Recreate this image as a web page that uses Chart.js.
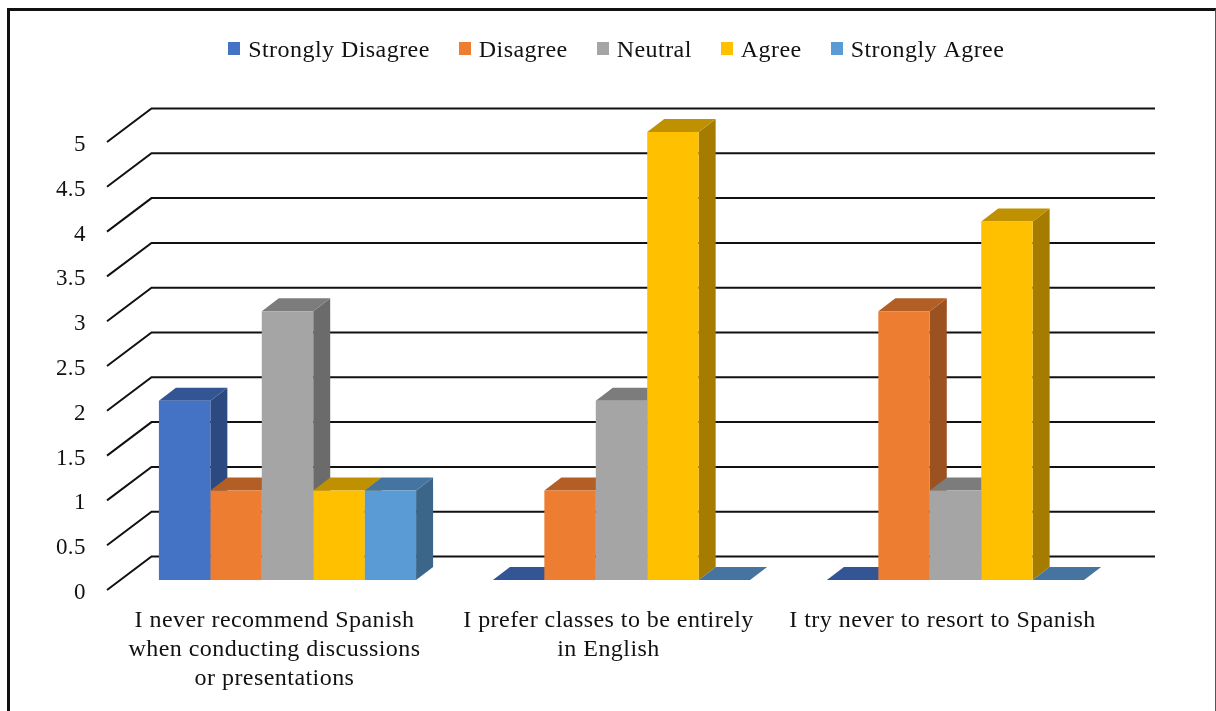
<!DOCTYPE html>
<html>
<head>
<meta charset="utf-8">
<title>Spanish use survey</title>
<script src="https://cdn.jsdelivr.net/npm/chart.js@4/dist/chart.umd.min.js"></script>
<style>
    html, body { margin: 0; padding: 0; background: #fff; }
    #wrap { position: relative; width: 1216px; height: 711px; overflow: hidden; }
    #frame { position: absolute; left: 7px; top: 8px; width: 1205px; height: 720px;
        border-left: 3px solid #111; border-top: 3px solid #111; border-right: 1px solid #555; }
    canvas { position: absolute; left: 0; top: 0; }
</style>
</head>
<body>
<div id="wrap">
    <canvas id="surveyChart" width="1216" height="711"></canvas>
    <div id="frame"></div>
</div>
<script>
const categories = [
    ['I never recommend Spanish', 'when conducting discussions', 'or presentations'],
    ['I prefer classes to be entirely', 'in English'],
    ['I try never to resort to Spanish']
];
const seriesNames = ['Strongly Disagree', 'Disagree', 'Neutral', 'Agree', 'Strongly Agree'];
const stronglyDisagree = [2, 0, 0];
const disagree = [1, 1, 3];
const neutral = [3, 2, 1];
const agree = [1, 5, 4];
const stronglyAgree = [1, 0, 0];

const frontColors = ['#4472C4', '#ED7D31', '#A5A5A5', '#FFC000', '#5B9BD5'];
const topColors = ['#335594', '#B35E25', '#7C7C7C', '#BF9000', '#44749F'];
const sideColors = ['#2D4A80', '#9C5120', '#6B6B6B', '#A67C00', '#3B6589'];

const serif = 'Liberation Serif';

// square legend marker, bigger than the box so the text sits close to it
// (canvas is taller than the square to lift it level with the text)
function legendSwatch(color) {
    const c = document.createElement('canvas');
    c.width = 12;
    c.height = 18;
    const g = c.getContext('2d');
    g.fillStyle = color;
    g.fillRect(0, 0, 12, 13);
    return c;
}

function fillPoly(ctx, color, pts) {
    ctx.fillStyle = color;
    ctx.beginPath();
    pts.forEach(function (p, i) {
        if (i === 0) ctx.moveTo(p[0], p[1]);
        else ctx.lineTo(p[0], p[1]);
    });
    ctx.closePath();
    ctx.fill();
}

// Back wall lines and the side/top faces of the bars, all taken from the scales
const depth3d = {
    id: 'depth3d',
    beforeInit(chart) {
        // extra room under the legend
        const fit = chart.legend.fit;
        chart.legend.fit = function () {
            fit.call(this);
            this.height += 59;
        };
    },
    // the reference text is set a little wide
    beforeLayout(chart) {
        chart.ctx.letterSpacing = '0.45px';
    },
    afterLayout(chart) {
        // legend is centred further right than the plot
        chart.legend.left += 57;
        chart.legend.right += 57;
    },
    beforeDraw(chart) {
        chart.ctx.letterSpacing = '0.45px';
    },
    beforeDatasetsDraw(chart) {
        const ctx = chart.ctx;
        const y = chart.scales.y;
        const area = chart.chartArea;
        const dx = 17, dy = -13;

        ctx.save();
        ctx.strokeStyle = '#111';
        ctx.lineWidth = 2;
        y.ticks.forEach(function (t) {
            const py = y.getPixelForValue(t.value);
            ctx.beginPath();
            ctx.moveTo(area.left - 13.5, py + 10);
            ctx.lineTo(area.left + 31, py - 23.5);
            ctx.lineTo(area.right + 32.5, py - 23.5);
            ctx.stroke();
        });

        categories.forEach(function (c, i) {
            chart.data.datasets.forEach(function (ds, d) {
                const bar = chart.getDatasetMeta(d).data[i];
                const l = bar.x - bar.width / 2;
                const r = bar.x + bar.width / 2;
                fillPoly(ctx, sideColors[d], [[r, bar.y], [r + dx, bar.y + dy], [r + dx, bar.base + dy], [r, bar.base]]);
                fillPoly(ctx, topColors[d], [[l, bar.y], [r, bar.y], [r + dx, bar.y + dy], [l + dx, bar.y + dy]]);
            });
        });
        ctx.restore();
    }
};

const seriesValues = [stronglyDisagree, disagree, neutral, agree, stronglyAgree];

new Chart(document.getElementById('surveyChart'), {
    type: 'bar',
    data: {
        labels: categories,
        datasets: seriesNames.map(function (name, i) {
            return {
                label: name,
                data: seriesValues[i],
                backgroundColor: frontColors[i],
                pointStyle: legendSwatch(frontColors[i]),
                categoryPercentage: 0.77,
                barPercentage: 1
            };
        })
    },
    options: {
        responsive: false,
        animation: false,
        layout: { padding: { top: 6, right: 93.5, bottom: 0, left: 0 } },
        plugins: {
            legend: {
                position: 'top',
                labels: {
                    usePointStyle: true,
                    pointStyleWidth: 4,
                    boxHeight: 13,
                    padding: 33,
                    color: '#111',
                    font: { family: serif, size: 24 }
                }
            },
            tooltip: { enabled: false }
        },
        scales: {
            y: {
                min: 0,
                max: 5,
                afterFit(scale) { scale.width = 120.5; },
                border: { display: false },
                grid: { display: false, drawTicks: false },
                ticks: {
                    stepSize: 0.5,
                    padding: 34.5,
                    labelOffset: 13,
                    color: '#111',
                    font: { family: serif, size: 23 },
                    callback: function (v) { return String(v); }
                }
            },
            x: {
                afterFit(scale) { scale.height = 131; },
                border: { display: false },
                grid: { display: false, drawTicks: false },
                ticks: {
                    autoSkip: false,
                    maxRotation: 0,
                    padding: 26,
                    labelOffset: -13,
                    color: '#111',
                    font: { family: serif, size: 24, lineHeight: 1.21 }
                }
            }
        }
    },
    plugins: [depth3d]
});
</script>
</body>
</html>
